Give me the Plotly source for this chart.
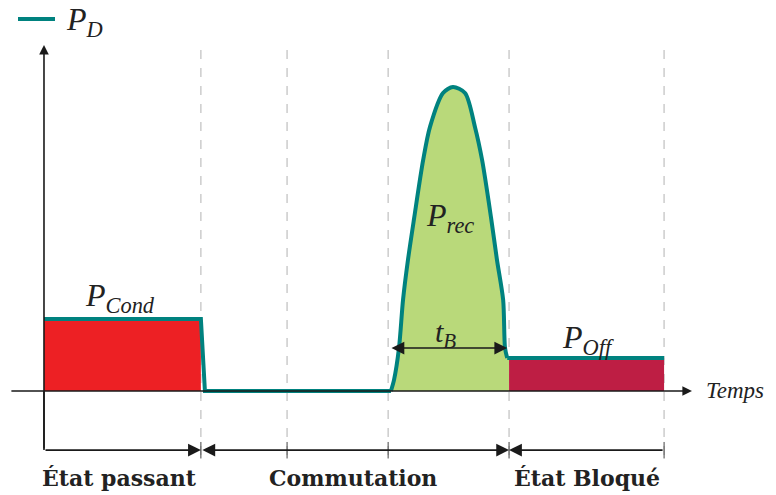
import plotly.graph_objects as go

# temps (unités arbitraires) et puissance dissipée P_D
t_pd = [0, 5.06, 5.19, 11.19, 11.29, 11.45, 11.58, 11.74, 11.94, 12.23, 12.45,
        12.87, 13.19, 13.58, 13.9, 14.13, 14.42, 14.61, 14.81, 14.87, 14.94, 20]
p_pd = [2.4, 2.4, 0, 0, 0.37, 1.43, 3.03, 4.37, 5.77, 7.7, 8.8,
        9.93, 10.13, 9.93, 8.8, 7.7, 5.77, 4.37, 3.03, 1.43, 1.1, 1.1]

# zones
t_cond = [0, 5.06]
p_cond = [2.4, 2.4]
t_rec = t_pd[3:21] + [15]
p_rec = p_pd[3:21] + [1.1]
t_off = [15, 20]
p_off = [1.1, 1.1]

t_lignes = [5.06, 7.84, 11.1, 15, 20]
t_b = [11.16, 14.94]
etats = ['État passant', 'Commutation', 'État Bloqué']
t_etats = [2.45, 9.97, 17.5]

TEAL = '#00827F'
serif = 'Liberation Serif'

fig = go.Figure()

fig.add_trace(go.Scatter(x=t_cond, y=p_cond, fill='tozeroy', mode='none',
                         fillcolor='#ED2024', hoverinfo='skip'))
fig.add_trace(go.Scatter(x=t_rec, y=p_rec, fill='tozeroy', mode='lines',
                         line=dict(width=0, shape='spline', smoothing=0.8),
                         fillcolor='#B9D97A', hoverinfo='skip'))
fig.add_trace(go.Scatter(x=t_off, y=p_off, fill='tozeroy', mode='none',
                         fillcolor='#BE1E44', hoverinfo='skip'))

# lignes verticales pointillées
for t in t_lignes:
    fig.add_shape(type='line', x0=t, x1=t, y0=-2.13, y1=11.53,
                  line=dict(color='#C4C4C4', width=1.3, dash='dash'), layer='below')
    fig.add_shape(type='line', x0=t, x1=t, y0=-1.7, y1=-2.25,
                  line=dict(color='#444444', width=1))

# courbe P_D : paliers linéaires + pic lissé
morceaux = [(0, 4, 'linear'), (3, 21, 'spline'), (20, 22, 'linear')]
for i0, i1, forme in morceaux:
    fig.add_trace(go.Scatter(x=t_pd[i0:i1], y=p_pd[i0:i1], mode='lines',
                             line=dict(color=TEAL, width=4, shape=forme, smoothing=0.8),
                             hoverinfo='skip'))

def fleche(x0, y0, x1, y1, deux=False, taille=1.6):
    fig.add_annotation(x=x1, y=y1, ax=x0, ay=y0, xref='x', yref='y',
                       axref='x', ayref='y', showarrow=True, text='',
                       arrowhead=2, arrowsize=taille, arrowwidth=1.6,
                       arrowcolor='#1a1a1a',
                       arrowside='end+start' if deux else 'end')

# axes
fleche(-1.1, 0, 20.9, 0, taille=1.2)
fleche(0, -1.97, 0, 11.53, taille=1.2)
fig.add_shape(type='line', x0=0, x1=0, y0=-1.97, y1=0, line=dict(color='#1a1a1a', width=1.6))

# accolades du bas
y_b = -1.97
fleche(0, y_b, t_lignes[0], y_b)
fleche(t_lignes[0], y_b, t_lignes[3], y_b, deux=True)
fleche(t_lignes[4], y_b, t_lignes[3], y_b)

# t_B
fleche(t_b[0], 1.43, t_b[1], 1.43, deux=True)

def label(x, y, txt, size=32, anchor='center'):
    fig.add_annotation(x=x, y=y, text=txt, showarrow=False, xanchor=anchor,
                       font=dict(family=serif, size=size, color='#222222'))

label(2.45, 3.1, '<i>P<sub>Cond</sub></i>')
label(13.1, 5.77, '<i>P<sub>rec</sub></i>')
label(12.94, 1.9, '<i>t<sub>B</sub></i>', size=30)
label(17.55, 1.7, '<i>P<sub>Off</sub></i>')
label(21.3, 0.0, '<i>Temps</i>', size=23, anchor='left')

# légende P_D
fig.add_shape(type='line', xref='paper', yref='paper', x0=18 / 776, x1=55 / 776,
              y0=1 - 19 / 495, y1=1 - 19 / 495, line=dict(color=TEAL, width=4))
fig.add_annotation(xref='paper', yref='paper', x=64 / 776, y=1 - 21 / 495,
                   xanchor='left', yanchor='middle', text='<i>P<sub>D</sub></i>',
                   showarrow=False,
                   font=dict(family=serif, size=32, color='#222222'))

for t, e in zip(t_etats, etats):
    fig.add_annotation(x=t, y=-2.9, text='<b>' + e + '</b>', showarrow=False,
                       font=dict(family='DejaVu Serif', size=22, color='#222222'))

fig.update_layout(
    width=776, height=495, autosize=False,
    margin=dict(l=0, r=0, t=0, b=0),
    paper_bgcolor='white', plot_bgcolor='white',
    showlegend=False,
    xaxis=dict(range=[-1.419, 23.61], visible=False),
    yaxis=dict(range=[-3.467, 13.03], visible=False),
)

fig.write_html('out.html', config={'displayModeBar': False},
               post_script="document.body.style.margin='0';")
